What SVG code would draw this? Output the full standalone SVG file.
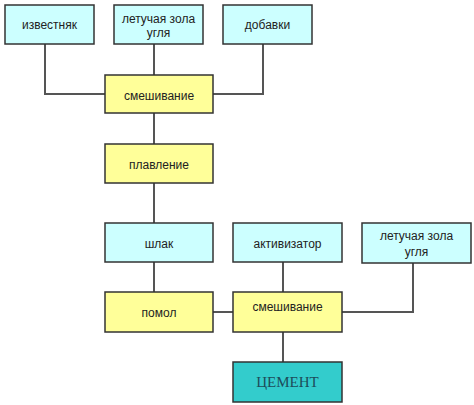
<svg xmlns="http://www.w3.org/2000/svg" width="474" height="405" viewBox="0 0 474 405">
<style>
  .bg{fill:#ffffff}
  .box{stroke:#333333;stroke-width:1.5}
  .raw{fill:#ccffff}
  .proc{fill:#ffff99}
  .prod{fill:#33cccc}
  .lbl{font-family:"Liberation Sans",Arial,sans-serif;font-size:12px;fill:#222222;text-anchor:middle}
  .big{font-family:"Liberation Serif","Times New Roman",serif;font-size:15px;fill:#1d4d5a;text-anchor:middle}
  .conn{fill:none;stroke:#555555;stroke-width:2}
</style>
<rect class="bg" x="0" y="0" width="474" height="405"/>
<g id="connectors">
  <polyline class="conn" points="45,44 45,94 105,94"/>
  <line class="conn" x1="154" y1="44" x2="154" y2="75"/>
  <polyline class="conn" points="263,44 263,94 213,94"/>
  <line class="conn" x1="154" y1="113" x2="154" y2="144"/>
  <line class="conn" x1="154" y1="183" x2="154" y2="223"/>
  <line class="conn" x1="154" y1="262" x2="154" y2="292"/>
  <line class="conn" x1="213" y1="312" x2="233" y2="312"/>
  <line class="conn" x1="283" y1="262" x2="283" y2="292"/>
  <polyline class="conn" points="413,263 413,312 342,312"/>
  <line class="conn" x1="283" y1="332" x2="283" y2="362"/>
</g>
<g id="izvestnyak">
  <rect class="box raw" x="5" y="5" width="89" height="39"/>
  <text class="lbl" x="49.5" y="29">известняк</text>
</g>
<g id="zola1">
  <rect class="box raw" x="114" y="5" width="89" height="39"/>
  <text class="lbl" x="158.5" y="23">летучая зола</text>
  <text class="lbl" x="158.5" y="37">угля</text>
</g>
<g id="dobavki">
  <rect class="box raw" x="223" y="5" width="89" height="39"/>
  <text class="lbl" x="267.5" y="29">добавки</text>
</g>
<g id="smeshivanie1">
  <rect class="box proc" x="105" y="75" width="108" height="38"/>
  <text class="lbl" x="159" y="100">смешивание</text>
</g>
<g id="plavlenie">
  <rect class="box proc" x="105" y="144" width="108" height="39"/>
  <text class="lbl" x="159" y="169">плавление</text>
</g>
<g id="shlak">
  <rect class="box raw" x="105" y="223" width="108" height="39"/>
  <text class="lbl" x="159" y="248">шлак</text>
</g>
<g id="aktivizator">
  <rect class="box raw" x="233" y="223" width="109" height="39"/>
  <text class="lbl" x="287.5" y="248">активизатор</text>
</g>
<g id="zola2">
  <rect class="box raw" x="362" y="223" width="109" height="40"/>
  <text class="lbl" x="416.5" y="240">летучая зола</text>
  <text class="lbl" x="416.5" y="256">угля</text>
</g>
<g id="pomol">
  <rect class="box proc" x="105" y="292" width="108" height="40"/>
  <text class="lbl" x="159" y="317">помол</text>
</g>
<g id="smeshivanie2">
  <rect class="box proc" x="233" y="292" width="109" height="40"/>
  <text class="lbl" x="287.5" y="311">смешивание</text>
</g>
<g id="cement">
  <rect class="box prod" x="233" y="362" width="109" height="40"/>
  <text class="big" x="287.5" y="387">ЦЕМЕНТ</text>
</g>
</svg>
